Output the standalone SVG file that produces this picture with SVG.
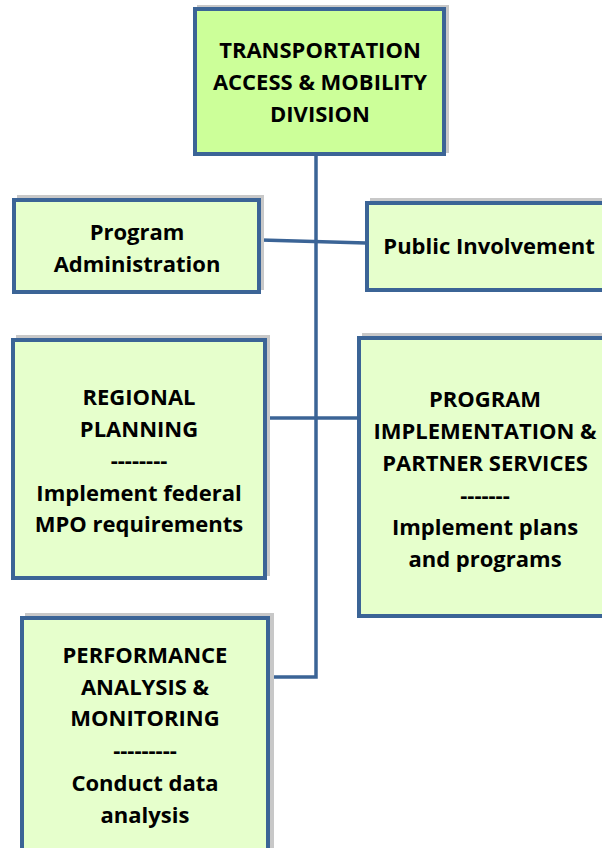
<svg xmlns="http://www.w3.org/2000/svg" width="602" height="848" viewBox="0 0 602 848">
<style>
.box{fill:#e6ffcc;stroke:#3b6496;stroke-width:4}
.top{fill:#ccff99}
.sh{fill:#c8c8c8}
.t{font-family:"Open Sans","Liberation Sans",sans-serif;font-weight:bold;font-size:22px;fill:#000;text-anchor:middle}
.c{fill:none;stroke:#3b6496;stroke-width:3.5}
</style>
<rect width="602" height="848" fill="#fff"/>
<g id="connectors">
<path class="c" d="M316 156 V677 H270"/>
<path class="c" d="M261 240 L366 243"/>
<path class="c" d="M267 418 H357"/>
</g>
<g id="division">
<rect class="sh" x="197" y="5" width="252" height="148"/>
<rect class="box top" x="195" y="9" width="249" height="145"/>
<text class="t" x="320" y="58">TRANSPORTATION</text>
<text class="t" x="320" y="90">ACCESS &amp; MOBILITY</text>
<text class="t" x="320" y="122">DIVISION</text>
</g>
<g id="program-administration">
<rect class="sh" x="17" y="195" width="247" height="95"/>
<rect class="box" x="14" y="200" width="245" height="92"/>
<text class="t" x="137" y="240">Program</text>
<text class="t" x="137" y="272">Administration</text>
</g>
<g id="public-involvement">
<rect class="sh" x="370" y="198" width="240" height="90"/>
<rect class="box" x="367" y="203" width="245" height="87"/>
<text class="t" x="489" y="254">Public Involvement</text>
</g>
<g id="regional-planning">
<rect class="sh" x="16" y="335" width="254" height="241"/>
<rect class="box" x="13" y="340" width="252" height="238"/>
<text class="t" x="139" y="405">REGIONAL</text>
<text class="t" x="139" y="437">PLANNING</text>
<text class="t" x="139" y="468">--------</text>
<text class="t" x="139" y="501">Implement federal</text>
<text class="t" x="139" y="532">MPO requirements</text>
</g>
<g id="program-implementation">
<rect class="sh" x="362" y="333" width="250" height="281"/>
<rect class="box" x="359" y="338" width="250" height="278"/>
<text class="t" x="485" y="407">PROGRAM</text>
<text class="t" x="485" y="439">IMPLEMENTATION &amp;</text>
<text class="t" x="485" y="471">PARTNER SERVICES</text>
<text class="t" x="485" y="503">-------</text>
<text class="t" x="485" y="535">Implement plans</text>
<text class="t" x="485" y="567">and programs</text>
</g>
<g id="performance-analysis">
<rect class="sh" x="25" y="613" width="249" height="243"/>
<rect class="box" x="22" y="618" width="246" height="240"/>
<text class="t" x="145" y="663">PERFORMANCE</text>
<text class="t" x="145" y="695">ANALYSIS &amp;</text>
<text class="t" x="145" y="726">MONITORING</text>
<text class="t" x="145" y="758">---------</text>
<text class="t" x="145" y="791">Conduct data</text>
<text class="t" x="145" y="823">analysis</text>
</g>
</svg>
